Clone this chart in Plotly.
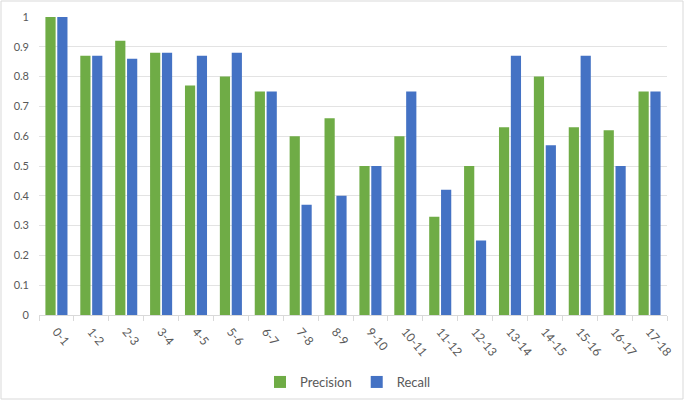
import plotly.graph_objects as go

categories = ["0-1", "1-2", "2-3", "3-4", "4-5", "5-6", "6-7", "7-8", "8-9", "9-10",
              "10-11", "11-12", "12-13", "13-14", "14-15", "15-16", "16-17", "17-18"]
precision = [1.0, 0.87, 0.92, 0.88, 0.77, 0.80, 0.75, 0.60, 0.66, 0.50,
             0.60, 0.33, 0.50, 0.63, 0.80, 0.63, 0.62, 0.75]
recall = [1.0, 0.87, 0.86, 0.88, 0.87, 0.88, 0.75, 0.37, 0.40, 0.50,
          0.75, 0.42, 0.25, 0.87, 0.57, 0.87, 0.50, 0.75]
y_ticks = [0, 0.1, 0.2, 0.3, 0.4, 0.5, 0.6, 0.7, 0.8, 0.9, 1]
y_labels = ["0", "0.1", "0.2", "0.3", "0.4", "0.5", "0.6", "0.7", "0.8", "0.9", "1"]

W, H = 684, 400
ml, mr, mt, mb = 39, 17, 17, 85
pw, ph = W - ml - mr, H - mt - mb

fig = go.Figure()
fig.add_trace(go.Bar(x=categories, y=precision, name="Precision",
                     marker=dict(color="#6fac46", line=dict(width=0))))
fig.add_trace(go.Bar(x=categories, y=recall, name="Recall",
                     marker=dict(color="#4472c4", line=dict(width=0))))

fig.update_layout(
    width=W, height=H,
    margin=dict(l=ml, r=mr, t=mt, b=mb, autoexpand=False),
    barmode="group", bargap=0.32, bargroupgap=0.14,
    plot_bgcolor="white", paper_bgcolor="white",
    font=dict(family="Lato, Open Sans, sans-serif", color="#595959", size=11),
    showlegend=True,
    legend=dict(orientation="h", x=(348 - ml) / pw, xanchor="center", y=(mt + ph - 382) / ph,
                yanchor="middle", font=dict(size=13, color="#595959"),
                itemwidth=30, traceorder="normal"),
    shapes=[dict(type="rect", xref="paper", yref="paper",
                 x0=(-ml + 1) / pw, x1=1 + (mr - 1) / pw,
                 y0=(-mb + 1) / ph, y1=1 + (mt - 1) / ph,
                 line=dict(color="#d9d9d9", width=1))],
)
fig.update_xaxes(type="category", tickangle=50, showgrid=False, showline=True, linecolor="#d9d9d9",
                 ticks="outside", tickson="boundaries", ticklen=5, tickcolor="#d9d9d9",
                 tickfont=dict(size=12, color="#595959"), ticklabelstandoff=4)
fig.update_yaxes(range=[0, 1.0], tickvals=y_ticks, ticktext=y_labels, showgrid=True,
                 gridcolor="#e3e3e3", zeroline=False, showline=False,
                 tickfont=dict(size=11, color="#595959"), ticklabelstandoff=9)

fig.write_html("out.html", config={"displayModeBar": False},
               post_script="document.body.style.margin='0';document.body.style.overflow='hidden';")
